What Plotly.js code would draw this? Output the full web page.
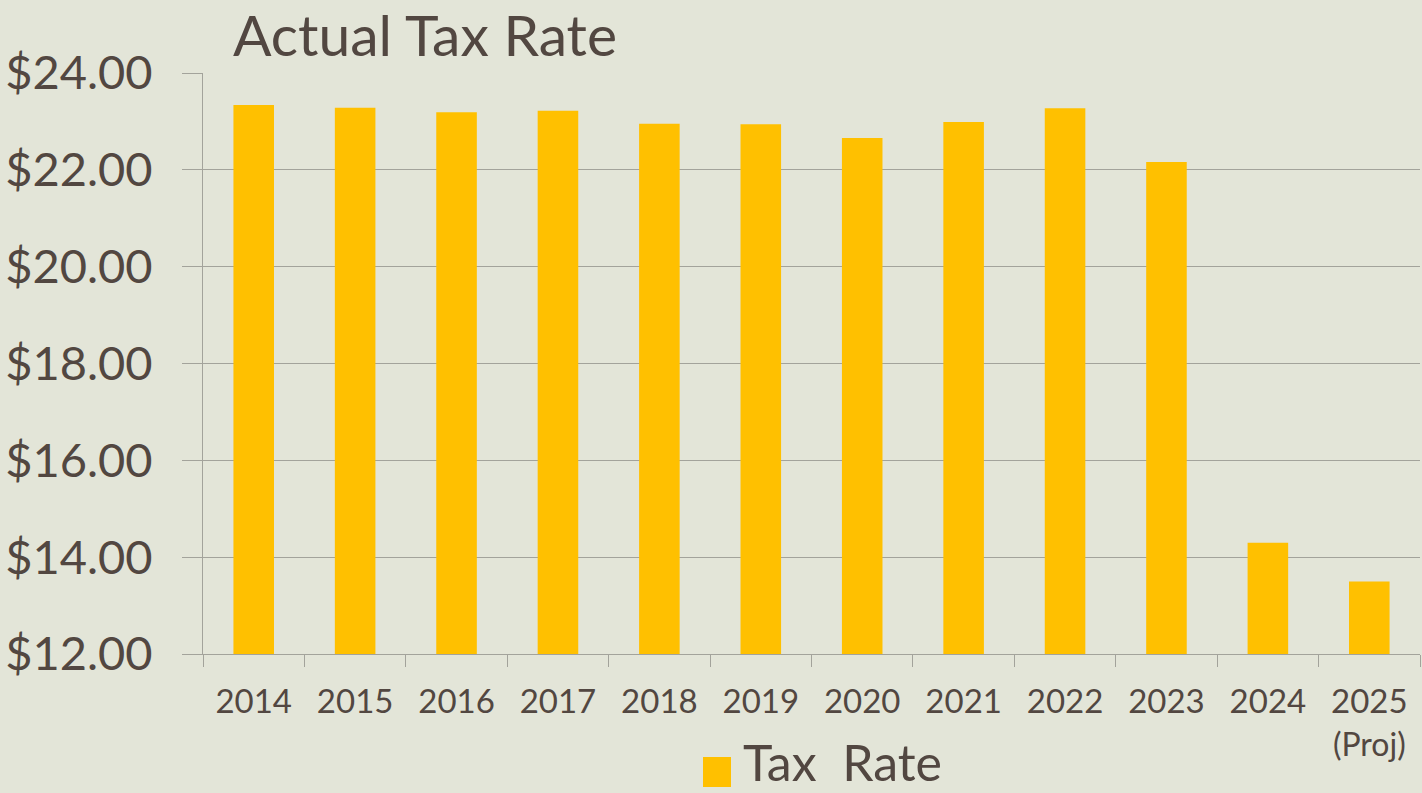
<!DOCTYPE html>
<html>
<head>
<meta charset="utf-8">
<script src="https://cdn.plot.ly/plotly-3.0.1.min.js"></script>
<style>
  html, body { margin: 0; padding: 0; background: #E3E5D8; }
  #chart { width: 1422px; height: 793px; }
</style>
</head>
<body>
<div id="chart"></div>
<script>
var years = ["2014", "2015", "2016", "2017", "2018", "2019", "2020", "2021", "2022", "2023", "2024", "2025"];
var tickLabels = ["2014", "2015", "2016", "2017", "2018", "2019", "2020", "2021", "2022", "2023", "2024",
                  "2025<br><span style='font-size:32px'>(Proj)</span>"];
var taxRate = [23.34, 23.28, 23.19, 23.22, 22.95, 22.94, 22.66, 22.99, 23.27, 22.16, 14.30, 13.50];
var seriesName = "Tax\u00a0 Rate";
var chartTitle = "Actual Tax Rate";

var textColor = "#524741";
var gridColor = "#A3A39B";
var barColor = "#FFC000";

var trace = {
  type: "bar",
  x: years,
  y: taxRate,
  name: seriesName,
  marker: { color: barColor },
  showlegend: false,
  hoverinfo: "x+y"
};

var layout = {
  width: 1422,
  height: 793,
  paper_bgcolor: "#E3E5D8",
  plot_bgcolor: "#E3E5D8",
  margin: { l: 203, r: 2, t: 73, b: 139 },
  bargap: 0.6,
  title: {
    text: chartTitle,
    font: { family: "Lato, sans-serif", size: 57, color: textColor },
    x: 233 / 1422, xanchor: "left", xref: "container",
    y: 1 - 36 / 793, yanchor: "middle", yref: "container",
    pad: { t: 0, l: 0, b: 0, r: 0 }
  },
  xaxis: {
    type: "category",
    tickvals: years,
    ticktext: tickLabels,
    tickson: "boundaries",
    ticks: "outside",
    ticklen: 12,
    tickcolor: gridColor,
    tickwidth: 1,
    showline: true,
    linecolor: gridColor,
    linewidth: 1,
    showgrid: false,
    ticklabelstandoff: 18,
    tickfont: { family: "Lato, sans-serif", size: 33, color: textColor },
    fixedrange: true
  },
  yaxis: {
    range: [12, 24],
    dtick: 2,
    tick0: 12,
    tickprefix: "$",
    tickformat: ".2f",
    ticks: "outside",
    ticklen: 20,
    tickcolor: gridColor,
    tickwidth: 1,
    showline: true,
    linecolor: gridColor,
    linewidth: 1,
    showgrid: true,
    gridcolor: gridColor,
    gridwidth: 1,
    zeroline: false,
    ticklabelstandoff: 20,
    tickfont: { family: "Lato, sans-serif", size: 47, color: textColor },
    fixedrange: true
  },
  shapes: [
    { type: "rect", xref: "paper", yref: "paper",
      x0: (703 - 203) / 1217, x1: (731 - 203) / 1217,
      y0: -(757 - 654) / 581, y1: -(787 - 654) / 581,
      fillcolor: barColor, line: { width: 0 } }
  ],
  annotations: [
    { xref: "paper", yref: "paper",
      x: (742 - 203) / 1217, xanchor: "left",
      y: -(793 - 654) / 581, yanchor: "bottom",
      text: seriesName, showarrow: false, borderpad: 0,
      font: { family: "Lato, sans-serif", size: 50, color: textColor } }
  ]
};

Plotly.newPlot("chart", [trace], layout, { displayModeBar: false, staticPlot: true });
</script>
</body>
</html>
